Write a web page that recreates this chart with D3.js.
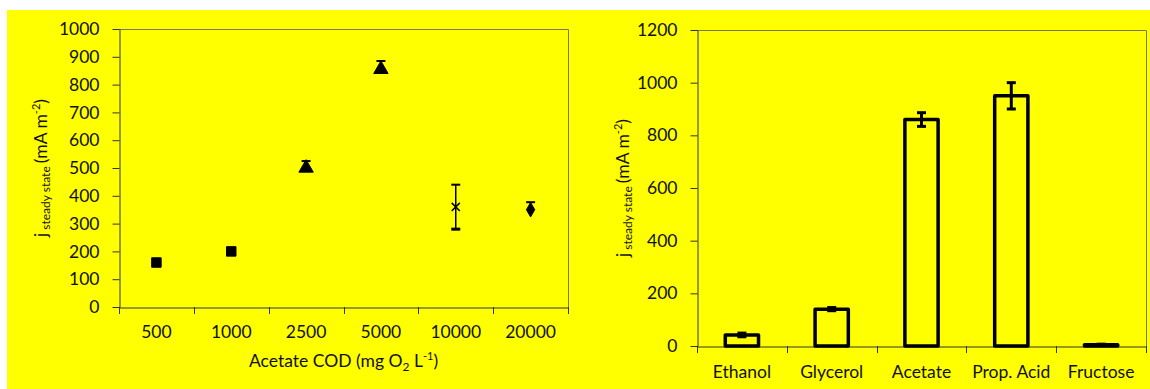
<!DOCTYPE html>
<html>
<head>
<meta charset="utf-8">
<script src="https://cdn.jsdelivr.net/npm/d3@7"></script>
<style>
    html, body { margin: 0; padding: 0; background: #fff; }
    svg { display: block; }
    text { font-family: Lato, "Open Sans", sans-serif; fill: #111; }
</style>
</head>
<body>
<svg id="viz" width="1150" height="389"></svg>
<script>
// left panel: steady state current vs acetate concentration
var concLabels = ["500", "1000", "2500", "5000", "10000", "20000"];
var concValues = [160, 200, 500, 855, 360, 350];
var concErrUp = [10, 8, 25, 30, 80, 27];
var concErrDown = [0, 0, 0, 0, 80, 0];
var concSymbols = ["square", "square", "triangle", "triangle", "cross", "diamond"];
var leftTicks = [0, 100, 200, 300, 400, 500, 600, 700, 800, 900, 1000];

// right panel: steady state current per substrate
var substrates = ["Ethanol", "Glycerol", "Acetate", "Prop. Acid", "Fructose"];
var subValues = [42, 140, 860, 950, 5];
var subErrors = [7, 6, 26, 50, 2];
var rightTicks = [0, 200, 400, 600, 800, 1000, 1200];

var svg = d3.select("svg#viz");

svg.append("rect")
    .attr("x", 7)
    .attr("y", 10)
    .attr("width", 1143)
    .attr("height", 379)
    .attr("fill", "#ffff00");

var font_size = 17.5;

function yTitle(g, x, y) {
    var t = g.append("text")
        .attr("transform", "translate(" + [x, y] + ") rotate(-90)")
        .attr("text-anchor", "middle")
        .style("font-size", font_size + "px");
    t.append("tspan").text("j");
    t.append("tspan").attr("dy", 3).style("font-size", "12px").text(" steady state ");
    t.append("tspan").attr("dy", -3).text("(mA m");
    t.append("tspan").attr("dy", -7).style("font-size", "11px").text("-2");
    t.append("tspan").attr("dy", 7).text(")");
}

function frame(g, x0, x1, y0, y1) {
    g.append("path")
        .attr("d", "M" + x0 + "," + (y0 + 0.5) + "H" + (x1 + 0.5) + "V" + y1)
        .attr("fill", "none")
        .attr("stroke", "#7a7a40")
        .attr("stroke-width", 1);
}

function styleAxis(a) {
    a.attr("font-size", null).attr("font-family", null);
    a.select(".domain").attr("stroke", "#333");
    a.selectAll(".tick line").attr("stroke", "#333");
    a.selectAll(".tick text")
        .style("font-size", font_size + "px")
        .attr("fill", "#111");
}

// ---------- left chart ----------
(function() {
    var left = 119, right = 568, top = 29, bottom = 307;

    var x = d3.scaleBand()
        .domain(concLabels)
        .range([left, right]);

    var y = d3.scaleLinear()
        .domain([0, 1000])
        .range([bottom, top]);

    var g = svg.append("g").attr("class", "left");

    frame(g, left, right, top, bottom);

    var ya = g.append("g")
        .attr("transform", "translate(" + [left + 0.5, 0] + ")")
        .call(d3.axisLeft(y).tickValues(leftTicks).tickFormat(d3.format("d"))
            .tickSize(7).tickPadding(13).tickSizeOuter(0));
    styleAxis(ya);

    var xa = g.append("g")
        .attr("transform", "translate(" + [0, bottom + 0.5] + ")")
        .call(d3.axisBottom(x).tickSize(0).tickPadding(18));
    styleAxis(xa);

    // ticks between categories
    var bounds = concLabels.map(function(d) { return x(d); }).concat([right]);
    g.selectAll("line.xtick")
        .data(bounds)
        .enter()
        .append("line")
            .attr("class", "xtick")
            .attr("x1", function(d) { return Math.round(d) + 0.5; })
            .attr("x2", function(d) { return Math.round(d) + 0.5; })
            .attr("y1", bottom)
            .attr("y2", bottom + 7)
            .attr("stroke", "#333");

    var pts = concLabels.map(function(d, i) {
        return {
            "label": d,
            "value": concValues[i],
            "up": concErrUp[i],
            "down": concErrDown[i],
            "symbol": concSymbols[i]
        };
    });

    var pt = g.selectAll("g.pt")
        .data(pts)
        .enter()
        .append("g")
            .attr("class", "pt")
            .attr("transform", function(d) {
                return "translate(" + [x(d.label) + x.bandwidth() / 2, 0] + ")";
            });

    pt.append("line")
        .attr("y1", function(d) { return y(d.value - d.down); })
        .attr("y2", function(d) { return y(d.value + d.up); })
        .attr("stroke", "#000")
        .attr("stroke-width", 1.5);

    pt.selectAll("line.cap")
        .data(function(d) {
            var caps = [d.value + d.up];
            if (d.down > 0) caps.push(d.value - d.down);
            return caps;
        })
        .enter()
        .append("line")
            .attr("class", "cap")
            .attr("x1", -4.5)
            .attr("x2", 4.5)
            .attr("y1", function(v) { return y(v); })
            .attr("y2", function(v) { return y(v); })
            .attr("stroke", "#000")
            .attr("stroke-width", function(v, i) { return i === 1 ? 3 : 2; });

    var shapes = {
        "square": d3.symbolSquare,
        "triangle": d3.symbolTriangle,
        "cross": d3.symbolTimes,
        "diamond": d3.symbolDiamond
    };

    pt.append("path")
        .attr("transform", function(d) { return "translate(" + [0, y(d.value)] + ")"; })
        .attr("d", function(d) {
            var size = d.symbol === "cross" ? 45 : (d.symbol === "diamond" ? 60 : 90);
            return d3.symbol().type(shapes[d.symbol]).size(size)();
        })
        .attr("fill", function(d) { return d.symbol === "cross" ? "none" : "#000"; })
        .attr("stroke", "#000")
        .attr("stroke-width", function(d) { return d.symbol === "cross" ? 1.5 : 1; });

    yTitle(g, 47, (top + bottom) / 2);

    var xt = g.append("text")
        .attr("x", (left + right) / 2)
        .attr("y", 367)
        .attr("text-anchor", "middle")
        .style("font-size", font_size + "px");
    xt.append("tspan").text("Acetate COD (mg O");
    xt.append("tspan").attr("dy", 4).style("font-size", "12px").text("2");
    xt.append("tspan").attr("dy", -4).text(" L");
    xt.append("tspan").attr("dy", -7).style("font-size", "11px").text("-1");
    xt.append("tspan").attr("dy", 7).text(")");
})();

// ---------- right chart ----------
(function() {
    var left = 697, right = 1146, top = 30, bottom = 346;

    var x = d3.scaleBand()
        .domain(substrates)
        .range([left, right]);

    var y = d3.scaleLinear()
        .domain([0, 1200])
        .range([bottom, top]);

    var g = svg.append("g").attr("class", "right");

    frame(g, left, right, top, bottom);

    var ya = g.append("g")
        .attr("transform", "translate(" + [left + 0.5, 0] + ")")
        .call(d3.axisLeft(y).tickValues(rightTicks).tickFormat(d3.format("d"))
            .tickSize(7).tickPadding(13).tickSizeOuter(0));
    styleAxis(ya);

    var xa = g.append("g")
        .attr("transform", "translate(" + [0, bottom + 0.5] + ")")
        .call(d3.axisBottom(x).tickSize(0).tickPadding(19));
    styleAxis(xa);

    var bounds = substrates.map(function(d) { return x(d); }).concat([right]);
    g.selectAll("line.xtick")
        .data(bounds)
        .enter()
        .append("line")
            .attr("class", "xtick")
            .attr("x1", function(d) { return Math.round(d) + 0.5; })
            .attr("x2", function(d) { return Math.round(d) + 0.5; })
            .attr("y1", bottom)
            .attr("y2", bottom + 7)
            .attr("stroke", "#333");

    var bars = substrates.map(function(d, i) {
        return { "name": d, "value": subValues[i], "err": subErrors[i] };
    });

    var barW = x.bandwidth() * 0.37;

    var bar = g.selectAll("g.bar")
        .data(bars)
        .enter()
        .append("g")
            .attr("class", "bar")
            .attr("transform", function(d) {
                return "translate(" + [x(d.name) + x.bandwidth() / 2, 0] + ")";
            });

    bar.append("rect")
        .attr("x", -barW / 2)
        .attr("width", barW)
        .attr("y", function(d) { return y(d.value); })
        .attr("height", function(d) { return bottom - y(d.value); })
        .attr("fill", "none")
        .attr("stroke", "#000")
        .attr("stroke-width", 3.5)
        .attr("stroke-linejoin", "round");

    bar.append("line")
        .attr("y1", function(d) { return y(d.value - d.err); })
        .attr("y2", function(d) { return y(d.value + d.err); })
        .attr("stroke", "#000")
        .attr("stroke-width", 3);

    bar.selectAll("line.cap")
        .data(function(d) { return [d.value - d.err, d.value + d.err]; })
        .enter()
        .append("line")
            .attr("class", "cap")
            .attr("x1", -4.5)
            .attr("x2", 4.5)
            .attr("y1", function(v) { return y(v); })
            .attr("y2", function(v) { return y(v); })
            .attr("stroke", "#000")
            .attr("stroke-width", 3);

    yTitle(g, 629, (top + bottom) / 2);
})();
</script>
</body>
</html>
